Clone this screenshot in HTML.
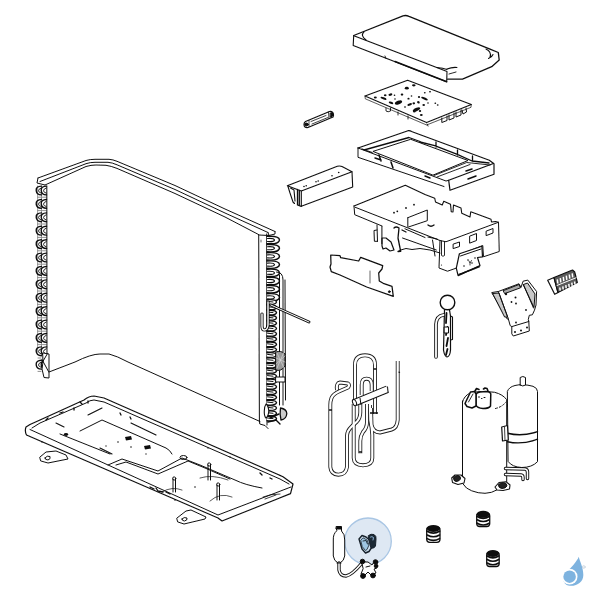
<!DOCTYPE html>
<html><head><meta charset="utf-8"><style>
html,body{margin:0;padding:0;background:#fff;width:600px;height:600px;overflow:hidden}
svg{display:block}
</style></head><body>
<svg width="600" height="600" viewBox="0 0 600 600">
<rect width="600" height="600" fill="#fff"/>
<defs><filter id="soft" x="0" y="0" width="600" height="600" filterUnits="userSpaceOnUse"><feGaussianBlur stdDeviation="0.3"/></filter></defs>
<g fill="none" stroke="#111" stroke-width="1" stroke-linejoin="round" stroke-linecap="round" filter="url(#soft)">

<!-- ===== LID ===== -->
<g id="lid">
<path d="M353.7,35.5 L403,15.8 Q406,15 409,16.3 L490,49.2 L498.3,52.5 L499.2,60 L491.7,66.7 L462.5,79.2 L447.5,79.2" stroke-width="1.3"/>
<path d="M353.7,35.5 L353.2,45.5 L446.7,81.7 L447,71.5 L436.7,67.5 L354.5,36" stroke-width="1.1"/>
<path d="M395,61.5 L446.7,81.7" stroke-width="1.5"/>
<path d="M364,31.8 Q360,35.5 366,40 M486,49 Q492,52 490,57 M488.5,58.5 Q492,57 493,54.5 M457,67.5 Q452,67 447,69 M437,67.5 Q443,68 447,69.5" stroke-width="1.1"/>
<path d="M385,56 L386,58.5 M449,74 L456,72" stroke-width="0.9"/>
</g>

<!-- ===== PCB ===== -->
<g id="pcb">
<path d="M365,96 L407.6,80.2 L471.3,104.5 L426.6,122.5 Z" stroke-width="1.1"/>
<path d="M365,96 L365.3,98.8 L426.6,125 L471,107.3 L471.3,104.5" stroke-width="0.7"/>
<path d="M386,108 L386,111 Q388,112.5 390.5,111 L390.5,108 M398,112 L398,115 M408,116 L408,119 M427,124 L428,126" stroke-width="0.9"/>
<path d="M441.8,118 L441.8,122.5 L447,120.5 L447,116 M449,115 L449,120 L454,118 L454,113 M456,112 L456,117 L461,115 L461,110 M462,110 L463,114 L466.5,112 L466,108" stroke-width="1"/>
<g fill="#111" stroke="none"><ellipse cx="375.3" cy="97.5" rx="1.5" ry="1.1"/><ellipse cx="383.5" cy="98.3" rx="3.2" ry="1.1" transform="rotate(20 383.5 98.3)"/><ellipse cx="385.2" cy="95.2" rx="1.3" ry="1"/><ellipse cx="390.4" cy="94.6" rx="2" ry="1.2" transform="rotate(-15 390.4 94.6)"/><ellipse cx="394.5" cy="95.2" rx="0.8" ry="0.8"/><ellipse cx="402" cy="94.6" rx="1.3" ry="1.1"/><ellipse cx="406.8" cy="88.2" rx="2" ry="1.4"/><ellipse cx="413.8" cy="85.3" rx="1.8" ry="1.1"/><ellipse cx="391" cy="102.8" rx="2.4" ry="1.1" transform="rotate(20 391 102.8)"/><ellipse cx="398.5" cy="102.5" rx="3.8" ry="1.8" transform="rotate(-20 398.5 102.5)"/><ellipse cx="408.5" cy="98.7" rx="1.1" ry="0.9"/><ellipse cx="409.7" cy="104.5" rx="2.4" ry="1.1" transform="rotate(-20 409.7 104.5)"/><ellipse cx="413.8" cy="103.3" rx="1.3" ry="1.1"/><ellipse cx="418.4" cy="102.2" rx="1.4" ry="1.1" transform="rotate(30 418.4 102.2)"/><ellipse cx="419" cy="97" rx="1.1" ry="1"/><ellipse cx="424.5" cy="98.6" rx="3.6" ry="1.1" transform="rotate(25 424.5 98.6)"/><ellipse cx="424.8" cy="92.8" rx="0.9" ry="0.8"/><ellipse cx="430" cy="91.7" rx="1" ry="0.8"/><ellipse cx="416.5" cy="109.5" rx="4" ry="1.6" transform="rotate(-25 416.5 109.5)"/><ellipse cx="423.7" cy="105" rx="1.3" ry="1"/><ellipse cx="421.3" cy="115" rx="1.4" ry="1"/><ellipse cx="414.3" cy="111.5" rx="1.3" ry="1"/><ellipse cx="435.3" cy="103.3" rx="0.9" ry="0.8"/><ellipse cx="437.7" cy="105" rx="0.9" ry="0.8"/><ellipse cx="405" cy="107" rx="1" ry="0.8"/><ellipse cx="395" cy="99" rx="0.8" ry="0.7"/><ellipse cx="428" cy="103" rx="0.8" ry="0.7"/><ellipse cx="411.5" cy="96" rx="0.8" ry="0.7"/><ellipse cx="420" cy="111" rx="1.2" ry="1"/></g>
</g>

<!-- ===== SMALL BRACKET ===== -->
<g id="sb">
<path d="M305.5,121.5 L329.5,111.5 Q333.5,111 333.5,115 L333,117 L308,127.5 Q304,128 304,124.5 Q304,122.5 305.5,121.5 Z" stroke-width="1.2"/>
<path d="M311,121.5 L326,115.5 M312,124 L328,117.5 M309,120.5 L309,126.5 M328.5,112 L329,118.5" stroke-width="0.8"/>
<ellipse cx="306.5" cy="124.5" rx="1.8" ry="1.4" fill="#111"/>
<path d="M330.5,113 L332.5,112.5 L332.5,116 L330.5,117 Z" fill="#111"/>
</g>

<!-- ===== FRAME ===== -->
<g id="frame">
<path d="M358,148 L408,130.7 Q410,130.3 411.5,131.5 L489.3,160.3 L494,163.7 L494,174.3 L450,190.3 L448.7,180.3 L492.7,163.7" stroke-width="1.2"/>
<path d="M358,148 L358,157.3 L444,186.5 M358,148 L446,181 L448.7,180.3"/>
<path d="M364,150 L409,137.5 L420,141.5 M362,149 L372,152.5" stroke-width="1.3"/>
<path d="M373.3,151.3 L410.7,139.3 L468,160.5 L433.3,175 Z"/>
<path d="M420,142 L434.7,145.7 L457.3,154.3 L472,161 L489,163 M436,142 L436,147 M457.5,150 L457.5,155 M472.5,156 L472.5,161.5" stroke-width="1.3"/>
<path d="M434,175.5 L466.7,162.5 L490,165 M437,177 L470,164.5" stroke-width="0.9"/>
<path d="M466,171 L472,169 M468,179 L476,176 M375,158 L381,160 M379,155 L381,161 M391,162 L393,168 M425,176 L430,178" stroke-width="1.5"/>
</g>

<!-- ===== BOX (left middle) ===== -->
<g id="box1">
<path d="M287.3,185.7 L337.3,166.3 Q340,165.5 342,166.5 L352,171.7 L301.3,191 Z" stroke-width="1.1"/>
<path d="M301.3,191 L301.3,206.3 L352.7,187 L352,171.7" stroke-width="1.1"/>
<path d="M288,186.5 L290,193 L293,202 L294.5,203.5 M290.5,188 L294,190 L295,201" stroke-width="1.1"/>
<path d="M297.5,189.5 L297.5,205 L301.3,206.3 M299.3,190.3 L299.3,205.5" stroke-width="1.3"/>
<g fill="#111" stroke="none"><circle cx="304" cy="186.5" r="0.8"/><circle cx="306.2" cy="185.8" r="0.8"/><circle cx="316" cy="181.8" r="0.8"/><circle cx="318.2" cy="181" r="0.8"/><circle cx="332" cy="175.7" r="0.8"/><circle cx="338.7" cy="172.5" r="0.8"/></g>
</g>

<!-- ===== CONTROL BOX ===== -->
<g id="cbox">
<path d="M354,206 L405.3,185.3 L425,194.5 L434.75,198.25 L435.5,202 L442.25,205 L443.75,201.25 L450.5,204.25 L451.25,211.75 L453,212 L453.5,205 L461,208 L461.75,213.25 L470,217 L470.75,211.75 L491,219.25 L491.5,222 L495.5,221.5 L498.5,222.25" stroke-width="1.1"/>
<path d="M354,206 L354.7,214.7 L382,226 M355.3,207.3 L440,240.5 L446,241.75 L498.5,222.25 L499.25,251.5 L483.5,256.75 L482.75,245.5 L459.5,254.5 M440,240.5 L439,268 L447.5,271.2 L456.3,268.1"/>
<path d="M441.5,241 L441.5,255.5 Q443,257 444.5,255.5 L444.5,241.5" stroke-width="0.9"/>
<path d="M453.5,244 L459.5,242 L459.5,246.5 L453.5,248.5 Z M470,236 L476.5,233.5 L476.5,240.5 L470,243 Z M486.5,231 L493,228.5 L493,233 L486.5,235.5 Z" stroke-width="1"/>
<path d="M459.4,253.75 L481.9,246.25 L482.5,256.9 L477.5,257.5 L480,265.6 L458.1,275.6 L456.3,268.1 Z" fill="#fff" stroke-width="1.2"/><path d="M460.5,256 L481,249" stroke-width="1"/>
<path d="M459,274.5 L479,266.8" stroke-width="1.6" stroke-dasharray="2,1"/>
<g fill="#111" stroke="none"><circle cx="468" cy="260" r="0.8"/><circle cx="472" cy="263" r="0.8"/><circle cx="464" cy="266" r="0.8"/><circle cx="475" cy="258" r="0.8"/><circle cx="441.5" cy="265" r="0.6"/>
<circle cx="394" cy="212.7" r="0.9"/><circle cx="397.3" cy="211.3" r="0.9"/><circle cx="406" cy="208" r="0.9"/><circle cx="414" cy="204.7" r="0.9"/></g>
<path d="M469,261 L470,263 L471.5,260.5 M470,263 L470,265" stroke-width="0.8"/>
<!-- raised step on top -->
<path d="M407.8,217.7 L407.8,226.5 M407.8,217.7 L427.3,210 L427.3,220.7 L408.5,227" stroke-width="1"/>
<path d="M428,225 Q431,227.5 434,225" stroke-width="1.3"/>
<!-- hanging parts under left -->
<path d="M377,225 L377.5,241.3 M381.9,226.3 L381.9,243.7 M377,230 L374,230.5 L374.4,241.3 L377.5,241.3" stroke-width="1"/>
<path d="M382,238 L386,238 L391,242 L394,250 L390,251 L386,248 L383,249 L382,246 Z" stroke-width="1.2"/>
<path d="M394,228 Q396,226 399,228 L398,238 L400,248 L400.7,251.3 L398,251.5" stroke-width="1.3"/>
<path d="M402.5,238 L436.3,250 M405,228.8 L425,237.5 M399,250.5 L406,248.5 L412,249.5 L420,248.5 L430,250 L440,253 M432.5,240 L435,256" stroke-width="1"/>
<path d="M402,230 L406,232 M428,237 L437,239" stroke-width="1.2"/>
</g>

<!-- ===== PLATE ===== -->
<g id="plate">
<path stroke-width="1.25" d="M330.7,255 L340,255.7 L340.7,257.7 L358.7,261 L360.7,257.3 L382.7,265.7 L382,269 L378.7,273 L379.3,281 L384,283.7 L392,286.3 L393.3,296.3 L366.7,287 L340,275 L331.3,271.7 L330,267 L331,264 Z"/>
<path d="M370,271 L370,283" stroke-width="0.6"/>
<circle cx="389.3" cy="291.7" r="0.9" fill="#111"/>
</g>

<!-- ===== BALL PART ===== -->
<g id="ball">
<circle cx="447.5" cy="302.5" r="7.3" stroke-width="1.4"/>
<path d="M444.5,310 L443.5,350 Q444.5,356.5 447,357 Q450,356.5 450.5,350 L450.5,316 L449.5,310" stroke-width="1.2"/>
<path d="M446.5,313 L446,323 M447.5,327 L446,335 M448,338 L446.5,346 M447.5,349 L446,355" stroke-width="1.8"/>
<path d="M444.5,327 L448.5,327 L448.5,333 L444.5,333 Z" stroke-width="1" fill="#fff"/>
<path d="M443.5,315 Q436.5,316 436,324 L436,357" stroke-width="3.6"/>
<path d="M443.5,315 Q436.5,316 436,324 L436,357" stroke="#fff" stroke-width="1.8"/>
<path d="M450.5,316 L452.5,317 L452.5,339.5 L450.5,340" stroke-width="1.1"/>
</g>

<!-- ===== RIGHT BRACKET ===== -->
<g id="rbr">
<path d="M492.1,292.5 L498.3,291.5 L519,283.75 L521,287.4 L523.1,281.2 L527.8,280.1 L536.6,291.5 L536,305 L534.5,310.1 L532.4,314.8 L529.3,315.3 L528.3,319.4 L528.8,321.5 L529.3,331 L513.3,336 L511.8,333.9 L511.8,326.6 L510.2,325.6 L508.2,318.4 L507.6,318.9 Z" fill="#fff"/>
<path d="M493,293.5 L499,293 L507.6,317 L505,317 Z" fill="#c8c8c8"/>
<path d="M523.5,284.5 L527.5,283 L535,294 L534,307 Z" fill="#c8c8c8"/>
<path d="M503.5,290.5 L519,284.5 L520.5,287.8 L505,293.5 Z" fill="#aaa"/>
<path d="M498.3,291.5 L508.2,318.4 M523.6,284.8 L533.5,308 M511.8,326.6 L528.8,321.5"/>
<g fill="#111" stroke="none">
<circle cx="515.5" cy="297.5" r="1"/><circle cx="511.5" cy="302" r="0.9"/><circle cx="516" cy="303.5" r="0.9"/><circle cx="526" cy="310" r="0.9"/>
<circle cx="516" cy="322.5" r="0.9"/><circle cx="515" cy="332" r="1"/><circle cx="521" cy="330.5" r="1"/><circle cx="527" cy="327.5" r="1"/>
<circle cx="506" cy="294" r="1.2"/>
</g>
</g>

<!-- ===== TERMINAL BLOCK ===== -->
<g id="tblock">
<path d="M547.7,280.3 L554,277.5 L558,292.5 L554.7,294.3 Z" fill="#fff" stroke-width="1.2"/>
<path d="M554,277.5 L572.5,270 L574.7,272 L577.3,282.5 L558,292.5 Z" fill="#5a5a5a" stroke-width="1.2"/>
<path d="M557,285.5 L576,277.8" stroke="#fff" stroke-width="1"/>
<g stroke="#fff" stroke-width="1.5" stroke-linecap="butt">
<path d="M557.3,279.3 L557.8,283.5 M560.3,278.1 L560.8,282.3 M563.3,276.9 L563.8,281.1 M566.3,275.7 L566.8,279.9 M569.3,274.5 L569.8,278.7 M572.2,273.3 L572.7,277.3"/>
<path d="M559.8,287.5 L560.2,290.7 M562.8,286.3 L563.2,289.5 M565.8,285.1 L566.2,288.3 M568.8,283.9 L569.2,287.1 M571.8,282.7 L572.2,285.9 M574.6,281.5 L575,284.5"/>
</g>
</g>

<!-- ===== COIL ===== -->
<g id="coil">
<path d="M38,178 L86,160.5 Q90,159.3 95,159.3 L109,159.3 Q113,159.6 117,161.3 L175,185.5 L225,209 L275,231.5"/>
<path d="M40,181.5 L86,163.7 Q90,162.3 95,162.3 L108,162.3 Q112,162.6 117,164.8 L175,189.5 L225,213 L268,232.5"/>
<path d="M45,185 L86,166.5 Q91,165 96,165 L106,165.3 Q111,166 117,168.4 L175,193.5 L225,217 L258.5,234.5"/>
<path d="M38,178 L37,183 L45,185 M258.5,234.5 L258.7,235 L269,235.5 L275,234 L275,231.5 M268,232.5 L269,235.5"/>
<!-- left column -->
<path d="M46.8,186 L47,376" stroke-width="1"/><path d="M41.5,186 L41.5,355 M37.6,186 L37.6,352" stroke-width="0.6" stroke="#555"/>
<g id="lcol" stroke-width="1.1" fill="#fff"><path d="M41.5,186.1 Q35.9,186.3 36.2,190.5 Q36.5,194.7 41.5,194.9" fill="none" stroke="#111" stroke-width="1.4"/>
<path d="M41.3,187.9 Q38.5,188.9 38.5,190.8 Q38.7,192.5 41.3,193.2" fill="none" stroke="#222" stroke-width="1"/>
<path d="M46.5,186.1 Q40.9,186.3 41.2,190.5 Q41.5,194.7 46.5,194.9" fill="none" stroke="#111" stroke-width="1.4"/>
<path d="M46.3,187.9 Q43.5,188.9 43.5,190.8 Q43.7,192.5 46.3,193.2" fill="none" stroke="#222" stroke-width="1"/>
<path d="M38,197.2 L41,197.2 M42.5,197.2 L46.5,197.2" stroke-width="0.6" stroke="#444"/>
<path d="M41.5,199.5 Q35.9,199.7 36.2,203.9 Q36.5,208.1 41.5,208.3" fill="none" stroke="#111" stroke-width="1.4"/>
<path d="M41.3,201.3 Q38.5,202.3 38.5,204.2 Q38.7,205.9 41.3,206.6" fill="none" stroke="#222" stroke-width="1"/>
<path d="M46.5,199.5 Q40.9,199.7 41.2,203.9 Q41.5,208.1 46.5,208.3" fill="none" stroke="#111" stroke-width="1.4"/>
<path d="M46.3,201.3 Q43.5,202.3 43.5,204.2 Q43.7,205.9 46.3,206.6" fill="none" stroke="#222" stroke-width="1"/>
<path d="M38,210.6 L41,210.6 M42.5,210.6 L46.5,210.6" stroke-width="0.6" stroke="#444"/>
<path d="M41.5,212.9 Q35.9,213.1 36.2,217.3 Q36.5,221.5 41.5,221.7" fill="none" stroke="#111" stroke-width="1.4"/>
<path d="M41.3,214.7 Q38.5,215.7 38.5,217.6 Q38.7,219.3 41.3,220.0" fill="none" stroke="#222" stroke-width="1"/>
<path d="M46.5,212.9 Q40.9,213.1 41.2,217.3 Q41.5,221.5 46.5,221.7" fill="none" stroke="#111" stroke-width="1.4"/>
<path d="M46.3,214.7 Q43.5,215.7 43.5,217.6 Q43.7,219.3 46.3,220.0" fill="none" stroke="#222" stroke-width="1"/>
<path d="M38,224.0 L41,224.0 M42.5,224.0 L46.5,224.0" stroke-width="0.6" stroke="#444"/>
<path d="M41.5,226.3 Q35.9,226.5 36.2,230.7 Q36.5,234.9 41.5,235.1" fill="none" stroke="#111" stroke-width="1.4"/>
<path d="M41.3,228.1 Q38.5,229.1 38.5,231.0 Q38.7,232.7 41.3,233.4" fill="none" stroke="#222" stroke-width="1"/>
<path d="M46.5,226.3 Q40.9,226.5 41.2,230.7 Q41.5,234.9 46.5,235.1" fill="none" stroke="#111" stroke-width="1.4"/>
<path d="M46.3,228.1 Q43.5,229.1 43.5,231.0 Q43.7,232.7 46.3,233.4" fill="none" stroke="#222" stroke-width="1"/>
<path d="M38,237.4 L41,237.4 M42.5,237.4 L46.5,237.4" stroke-width="0.6" stroke="#444"/>
<path d="M41.5,239.7 Q35.9,239.9 36.2,244.1 Q36.5,248.3 41.5,248.5" fill="none" stroke="#111" stroke-width="1.4"/>
<path d="M41.3,241.5 Q38.5,242.5 38.5,244.4 Q38.7,246.1 41.3,246.8" fill="none" stroke="#222" stroke-width="1"/>
<path d="M46.5,239.7 Q40.9,239.9 41.2,244.1 Q41.5,248.3 46.5,248.5" fill="none" stroke="#111" stroke-width="1.4"/>
<path d="M46.3,241.5 Q43.5,242.5 43.5,244.4 Q43.7,246.1 46.3,246.8" fill="none" stroke="#222" stroke-width="1"/>
<path d="M38,250.8 L41,250.8 M42.5,250.8 L46.5,250.8" stroke-width="0.6" stroke="#444"/>
<path d="M41.5,253.1 Q35.9,253.3 36.2,257.5 Q36.5,261.7 41.5,261.9" fill="none" stroke="#111" stroke-width="1.4"/>
<path d="M41.3,254.9 Q38.5,255.9 38.5,257.8 Q38.7,259.5 41.3,260.2" fill="none" stroke="#222" stroke-width="1"/>
<path d="M46.5,253.1 Q40.9,253.3 41.2,257.5 Q41.5,261.7 46.5,261.9" fill="none" stroke="#111" stroke-width="1.4"/>
<path d="M46.3,254.9 Q43.5,255.9 43.5,257.8 Q43.7,259.5 46.3,260.2" fill="none" stroke="#222" stroke-width="1"/>
<path d="M38,264.2 L41,264.2 M42.5,264.2 L46.5,264.2" stroke-width="0.6" stroke="#444"/>
<path d="M41.5,266.5 Q35.9,266.7 36.2,270.9 Q36.5,275.1 41.5,275.3" fill="none" stroke="#111" stroke-width="1.4"/>
<path d="M41.3,268.3 Q38.5,269.3 38.5,271.2 Q38.7,272.9 41.3,273.6" fill="none" stroke="#222" stroke-width="1"/>
<path d="M46.5,266.5 Q40.9,266.7 41.2,270.9 Q41.5,275.1 46.5,275.3" fill="none" stroke="#111" stroke-width="1.4"/>
<path d="M46.3,268.3 Q43.5,269.3 43.5,271.2 Q43.7,272.9 46.3,273.6" fill="none" stroke="#222" stroke-width="1"/>
<path d="M38,277.6 L41,277.6 M42.5,277.6 L46.5,277.6" stroke-width="0.6" stroke="#444"/>
<path d="M41.5,279.9 Q35.9,280.1 36.2,284.3 Q36.5,288.5 41.5,288.7" fill="none" stroke="#111" stroke-width="1.4"/>
<path d="M41.3,281.7 Q38.5,282.7 38.5,284.6 Q38.7,286.3 41.3,287.0" fill="none" stroke="#222" stroke-width="1"/>
<path d="M46.5,279.9 Q40.9,280.1 41.2,284.3 Q41.5,288.5 46.5,288.7" fill="none" stroke="#111" stroke-width="1.4"/>
<path d="M46.3,281.7 Q43.5,282.7 43.5,284.6 Q43.7,286.3 46.3,287.0" fill="none" stroke="#222" stroke-width="1"/>
<path d="M38,291.0 L41,291.0 M42.5,291.0 L46.5,291.0" stroke-width="0.6" stroke="#444"/>
<path d="M41.5,293.3 Q35.9,293.5 36.2,297.7 Q36.5,301.9 41.5,302.1" fill="none" stroke="#111" stroke-width="1.4"/>
<path d="M41.3,295.1 Q38.5,296.1 38.5,298.0 Q38.7,299.7 41.3,300.4" fill="none" stroke="#222" stroke-width="1"/>
<path d="M46.5,293.3 Q40.9,293.5 41.2,297.7 Q41.5,301.9 46.5,302.1" fill="none" stroke="#111" stroke-width="1.4"/>
<path d="M46.3,295.1 Q43.5,296.1 43.5,298.0 Q43.7,299.7 46.3,300.4" fill="none" stroke="#222" stroke-width="1"/>
<path d="M38,304.4 L41,304.4 M42.5,304.4 L46.5,304.4" stroke-width="0.6" stroke="#444"/>
<path d="M41.5,306.7 Q35.9,306.9 36.2,311.1 Q36.5,315.3 41.5,315.5" fill="none" stroke="#111" stroke-width="1.4"/>
<path d="M41.3,308.5 Q38.5,309.5 38.5,311.4 Q38.7,313.1 41.3,313.8" fill="none" stroke="#222" stroke-width="1"/>
<path d="M46.5,306.7 Q40.9,306.9 41.2,311.1 Q41.5,315.3 46.5,315.5" fill="none" stroke="#111" stroke-width="1.4"/>
<path d="M46.3,308.5 Q43.5,309.5 43.5,311.4 Q43.7,313.1 46.3,313.8" fill="none" stroke="#222" stroke-width="1"/>
<path d="M38,317.8 L41,317.8 M42.5,317.8 L46.5,317.8" stroke-width="0.6" stroke="#444"/>
<path d="M41.5,320.1 Q35.9,320.3 36.2,324.5 Q36.5,328.7 41.5,328.9" fill="none" stroke="#111" stroke-width="1.4"/>
<path d="M41.3,321.9 Q38.5,322.9 38.5,324.8 Q38.7,326.5 41.3,327.2" fill="none" stroke="#222" stroke-width="1"/>
<path d="M46.5,320.1 Q40.9,320.3 41.2,324.5 Q41.5,328.7 46.5,328.9" fill="none" stroke="#111" stroke-width="1.4"/>
<path d="M46.3,321.9 Q43.5,322.9 43.5,324.8 Q43.7,326.5 46.3,327.2" fill="none" stroke="#222" stroke-width="1"/>
<path d="M38,331.2 L41,331.2 M42.5,331.2 L46.5,331.2" stroke-width="0.6" stroke="#444"/>
<path d="M41.5,333.5 Q35.9,333.7 36.2,337.9 Q36.5,342.1 41.5,342.3" fill="none" stroke="#111" stroke-width="1.4"/>
<path d="M41.3,335.3 Q38.5,336.3 38.5,338.2 Q38.7,339.9 41.3,340.6" fill="none" stroke="#222" stroke-width="1"/>
<path d="M46.5,333.5 Q40.9,333.7 41.2,337.9 Q41.5,342.1 46.5,342.3" fill="none" stroke="#111" stroke-width="1.4"/>
<path d="M46.3,335.3 Q43.5,336.3 43.5,338.2 Q43.7,339.9 46.3,340.6" fill="none" stroke="#222" stroke-width="1"/>
<path d="M38,344.6 L41,344.6 M42.5,344.6 L46.5,344.6" stroke-width="0.6" stroke="#444"/>
<path d="M41.5,346.9 Q35.9,347.1 36.2,351.3 Q36.5,355.5 41.5,355.7" fill="none" stroke="#111" stroke-width="1.4"/>
<path d="M41.3,348.7 Q38.5,349.7 38.5,351.6 Q38.7,353.3 41.3,354.0" fill="none" stroke="#222" stroke-width="1"/>
<path d="M46.5,346.9 Q40.9,347.1 41.2,351.3 Q41.5,355.5 46.5,355.7" fill="none" stroke="#111" stroke-width="1.4"/>
<path d="M46.3,348.7 Q43.5,349.7 43.5,351.6 Q43.7,353.3 46.3,354.0" fill="none" stroke="#222" stroke-width="1"/>
<path d="M38,358.0 L41,358.0 M42.5,358.0 L46.5,358.0" stroke-width="0.6" stroke="#444"/>
<path d="M41.5,360.3 Q35.9,360.5 36.2,364.7 Q36.5,368.9 41.5,369.1" fill="none" stroke="#111" stroke-width="1.4"/>
<path d="M41.3,362.1 Q38.5,363.1 38.5,365.0 Q38.7,366.7 41.3,367.4" fill="none" stroke="#222" stroke-width="1"/>
<path d="M46.5,360.3 Q40.9,360.5 41.2,364.7 Q41.5,368.9 46.5,369.1" fill="none" stroke="#111" stroke-width="1.4"/>
<path d="M46.3,362.1 Q43.5,363.1 43.5,365.0 Q43.7,366.7 46.3,367.4" fill="none" stroke="#222" stroke-width="1"/>
<path d="M38,371.4 L41,371.4 M42.5,371.4 L46.5,371.4" stroke-width="0.6" stroke="#444"/></g>
<path d="M43,353 L49,354 L49,378 L44,377.5 L42,369 L43,362 Z" fill="#fff"/>
<path d="M47.5,353.5 L42.3,362.5 M42,359.5 L48.5,371.5" stroke-width="1"/>
<!-- coil bottom line -->
<path d="M49,372 L75,362 Q91,354 100,354 L109,354 Q117,356 128,362 L260,421.5"/>
<!-- right column -->
<path d="M258.7,234.7 L259.4,421 M266.7,234 L267,425" />
<path d="M261,240 L261,242" stroke-width="0.6"/>
<g id="rcol" stroke-width="1.1" fill="#fff"><path d="M267,236.4 Q279,235.5 279.5,240.0 Q279,244.5 267,243.6" stroke-width="1.4"/>
<path d="M267.5,238.5 Q274,238.0 274.5,240.0 Q274,242.0 267.5,241.5" stroke-width="1.1"/>
<path d="M267,244.6 Q279,243.7 279.5,248.2 Q279,252.7 267,251.8" stroke-width="1.4"/>
<path d="M267.5,246.7 Q274,246.2 274.5,248.2 Q274,250.2 267.5,249.7" stroke-width="1.1"/>
<path d="M267,252.8 Q279,251.9 279.5,256.4 Q279,260.9 267,260.0" stroke-width="1.4"/>
<path d="M267.5,254.9 Q274,254.4 274.5,256.4 Q274,258.4 267.5,257.9" stroke-width="1.1"/>
<path d="M267,261.0 Q279,260.1 279.5,264.6 Q279,269.1 267,268.2" stroke-width="1.4"/>
<path d="M267.5,263.1 Q274,262.6 274.5,264.6 Q274,266.6 267.5,266.1" stroke-width="1.1"/>
<path d="M267,269.2 Q279,268.3 279.5,272.8 Q279,277.3 267,276.4" stroke-width="1.4"/>
<path d="M267.5,271.3 Q274,270.8 274.5,272.8 Q274,274.8 267.5,274.3" stroke-width="1.1"/>
<path d="M267,277.4 Q279,276.5 279.5,281.0 Q279,285.5 267,284.6" stroke-width="1.4"/>
<path d="M267.5,279.5 Q274,279.0 274.5,281.0 Q274,283.0 267.5,282.5" stroke-width="1.1"/>
<path d="M267,285.6 Q279,284.7 279.5,289.2 Q279,293.7 267,292.8" stroke-width="1.4"/>
<path d="M267.5,287.7 Q274,287.2 274.5,289.2 Q274,291.2 267.5,290.7" stroke-width="1.1"/>
<path d="M267,293.8 Q279,292.9 279.5,297.4 Q279,301.9 267,301.0" stroke-width="1.4"/>
<path d="M267.5,295.9 Q274,295.4 274.5,297.4 Q274,299.4 267.5,298.9" stroke-width="1.1"/>
<path d="M267,299.8 Q276,299.0 276.5,302.0 Q276,305.0 267,304.2" stroke-width="1.4"/>
<path d="M267.5,301.4 L273,302.0" stroke-width="1"/>
<path d="M267,305.1 Q276,304.3 276.5,307.3 Q276,310.3 267,309.5" stroke-width="1.4"/>
<path d="M267.5,306.7 L273,307.3" stroke-width="1"/>
<path d="M267,310.4 Q276,309.6 276.5,312.6 Q276,315.6 267,314.8" stroke-width="1.4"/>
<path d="M267.5,312.0 L273,312.6" stroke-width="1"/>
<path d="M267,315.7 Q276,314.9 276.5,317.9 Q276,320.9 267,320.1" stroke-width="1.4"/>
<path d="M267.5,317.3 L273,317.9" stroke-width="1"/>
<path d="M267,321.0 Q276,320.2 276.5,323.2 Q276,326.2 267,325.4" stroke-width="1.4"/>
<path d="M267.5,322.6 L273,323.2" stroke-width="1"/>
<path d="M267,326.3 Q276,325.5 276.5,328.5 Q276,331.5 267,330.7" stroke-width="1.4"/>
<path d="M267.5,327.9 L273,328.5" stroke-width="1"/>
<path d="M267,331.6 Q276,330.8 276.5,333.8 Q276,336.8 267,336.0" stroke-width="1.4"/>
<path d="M267.5,333.2 L273,333.8" stroke-width="1"/>
<path d="M267,336.9 Q276,336.1 276.5,339.1 Q276,342.1 267,341.3" stroke-width="1.4"/>
<path d="M267.5,338.5 L273,339.1" stroke-width="1"/>
<path d="M267,342.2 Q276,341.4 276.5,344.4 Q276,347.4 267,346.6" stroke-width="1.4"/>
<path d="M267.5,343.8 L273,344.4" stroke-width="1"/>
<path d="M267,347.5 Q276,346.7 276.5,349.7 Q276,352.7 267,351.9" stroke-width="1.4"/>
<path d="M267.5,349.1 L273,349.7" stroke-width="1"/>
<path d="M267,352.8 Q276,352.0 276.5,355.0 Q276,358.0 267,357.2" stroke-width="1.4"/>
<path d="M267.5,354.4 L273,355.0" stroke-width="1"/>
<path d="M267,358.1 Q276,357.3 276.5,360.3 Q276,363.3 267,362.5" stroke-width="1.4"/>
<path d="M267.5,359.7 L273,360.3" stroke-width="1"/>
<path d="M267,363.4 Q276,362.6 276.5,365.6 Q276,368.6 267,367.8" stroke-width="1.4"/>
<path d="M267.5,365.0 L273,365.6" stroke-width="1"/>
<path d="M267,368.7 Q276,367.9 276.5,370.9 Q276,373.9 267,373.1" stroke-width="1.4"/>
<path d="M267.5,370.3 L273,370.9" stroke-width="1"/>
<path d="M267,374.0 Q276,373.2 276.5,376.2 Q276,379.2 267,378.4" stroke-width="1.4"/>
<path d="M267.5,375.6 L273,376.2" stroke-width="1"/>
<path d="M267,379.3 Q276,378.5 276.5,381.5 Q276,384.5 267,383.7" stroke-width="1.4"/>
<path d="M267.5,380.9 L273,381.5" stroke-width="1"/>
<path d="M267,384.6 Q276,383.8 276.5,386.8 Q276,389.8 267,389.0" stroke-width="1.4"/>
<path d="M267.5,386.2 L273,386.8" stroke-width="1"/>
<path d="M267,389.9 Q276,389.1 276.5,392.1 Q276,395.1 267,394.3" stroke-width="1.4"/>
<path d="M267.5,391.5 L273,392.1" stroke-width="1"/>
<path d="M267,395.2 Q276,394.4 276.5,397.4 Q276,400.4 267,399.6" stroke-width="1.4"/>
<path d="M267.5,396.8 L273,397.4" stroke-width="1"/>
<path d="M267,400.5 Q276,399.7 276.5,402.7 Q276,405.7 267,404.9" stroke-width="1.4"/>
<path d="M267.5,402.1 L273,402.7" stroke-width="1"/>
<path d="M267,405.8 Q276,405.0 276.5,408.0 Q276,411.0 267,410.2" stroke-width="1.4"/>
<path d="M267.5,407.4 L273,408.0" stroke-width="1"/>
<path d="M267,411.1 Q276,410.3 276.5,413.3 Q276,416.3 267,415.5" stroke-width="1.4"/>
<path d="M267.5,412.7 L273,413.3" stroke-width="1"/>
<path d="M267,416.4 Q276,415.6 276.5,418.6 Q276,421.6 267,420.8" stroke-width="1.4"/>
<path d="M267.5,418.0 L273,418.6" stroke-width="1"/>
<path d="M276.5,272 Q283,272 283,280 L283,405 M279.5,275 L279.5,405 M285,280 L285.5,400" stroke-width="1" fill="none"/>
<path d="M276,352 Q281,350 285,354 L285,366 Q281,372 276,370 Z" fill="#999" stroke-width="1"/>
<path d="M277,353 L284,368 M284,352 L277,368 M276,358 L285,362 M276,364 L285,356" stroke="#ddd" stroke-width="0.6" fill="none"/>
<path d="M276,377 L285,377 L285,382 L276,382 Z" stroke-width="1"/>
<path d="M268,302 L268,325 Q267.5,330 264.5,330 Q262,330 262,326 L262,314" stroke-width="3.2" fill="none"/>
<path d="M268,302 L268,325 Q267.5,330 264.5,330 Q262,330 262,326 L262,314" stroke="#fff" stroke-width="1.4" fill="none"/>
<path d="M266,404 Q268.5,406 268.8,411 Q268.5,416 266,418 Q264,416 264.3,411 Q264.5,406 266,404 Z" stroke-width="1.1"/>
<path d="M280.5,408 Q286.5,409 286.8,413.5 Q286.5,419 281,420 Q279.5,414 280.5,408 Z" fill="#ccc" stroke-width="1.3"/>
<path d="M270,418 L279,414 M268,422 L276,420 L280,424" stroke-width="1.4" fill="none"/>
<path d="M259.4,421 L259.8,424 L265,425.5 L268,428.5" stroke-width="1" fill="none"/></g>
<!-- rod -->
<path d="M270.8,305 L309,322" stroke-width="2.8"/>
<path d="M270.8,305 L309,322" stroke="#fff" stroke-width="1"/>
</g>

<!-- ===== BASE PAN ===== -->
<g id="base">
<path d="M26,427 L30,424.5 L40,420 L84,400 Q89,396 94,396 L104,398 L283,476.7 L293,484 L290.5,493.6 L222,521 L218,518 L26.5,435 Q24.5,431 26,427 Z" stroke-width="1.2"/>
<path d="M30,429.5 L218,515 L291,487"/>
<path d="M32,428 L40,423 L86,403 Q90,400 94,400 L104,402 L280,479 L289,484"/>
<path d="M80,431 L102,420 L166,448 Q170,450 172,454"/>
<path d="M60,434 L110,454"/>
<path d="M131,423 L156,435 M56,423 L64,427 M88,415 L102,408 M100,448 L112,454" stroke-width="1.1"/>
<path d="M108,465 L122,459 L158,471 L182,458 L200,465 L235,480 Q245,485 262,488 M116,465 L126,462 L158,474 L188,461 L205,468 L230,479"/>
<path d="M46,420 L48,418 M60,413 L63,412 M74,408 L74,410 M80,402 L82,404 M88,401 L88,403 M120,413 L121,415 M130,417 L131,419 M260,473 L262,475 M270,478 L272,479" stroke-width="1.3"/>
<!-- feet -->
<path d="M40,457 L46,452 L56,451 L66,455 L68,459 L48,463 L41,461 Z"/>
<path d="M45,458 Q47,455 50,456.5 Q51,459 48,460 Q45,460 45,458 Z"/>
<path d="M177,518 L186,511 L191,510 L206,517 L205,519 L184,524 L178,522 Z"/>
<path d="M182,519 Q184,516.5 187,518 Q187.5,520.5 184.5,521 Q182,521 182,519 Z"/>
<!-- pins -->
<path d="M208,465 L208,480 M210.5,465 L210.5,480 M217,485 L217,500 M219.5,485 L219.5,500 M173,479 L173,492 M175.5,479 L175.5,492" stroke-width="1"/>
<path d="M200,478 Q212,474 228,480 M210,501 Q220,492 232,497 M162,492 Q172,486 182,490" stroke-width="0.7"/>
<circle cx="209.2" cy="464.5" r="1.6"/><circle cx="218.2" cy="484.5" r="1.6"/><circle cx="174.2" cy="478.5" r="1.6"/>
<ellipse cx="183.5" cy="457.5" rx="3.5" ry="2"/>
<path d="M150,487 L154,489 M156,488 L158,491 L163,492 M166,492 L170,494" stroke-width="1.3"/>
<path d="M263,497 Q270,494 280,494 M265,499 L276,495" stroke-width="0.8"/>
<g fill="#111" stroke="none">
<ellipse cx="66" cy="434.5" rx="2.2" ry="1.4"/>
<path d="M125,437 L131,436 L132,439.5 L126,440.5 Z"/>
<path d="M144,446 L150,445 L151,448.5 L145,449.5 Z"/>
<circle cx="118" cy="442" r="0.8"/><circle cx="131" cy="447" r="0.8"/><circle cx="146" cy="454" r="0.7"/>
<circle cx="208" cy="448" r="0.7"/><circle cx="230" cy="457" r="0.7"/><circle cx="175" cy="500" r="0.8"/>
<circle cx="42" cy="442" r="0.7"/><circle cx="106" cy="446" r="0.7"/><circle cx="195" cy="487" r="0.8"/>
</g>
</g>

<!-- ===== PIPES ===== -->
<g id="pipes" stroke-width="3.6" stroke-linecap="butt">
<path d="M337,390 Q336,383 340,382.5 L348,383.5 Q350,385 348,387.5 L340,391 Q333,394 331.5,398 Q330.3,401 330.3,405 L330.3,467 Q331,474.5 338.3,474.7 Q346,474.5 347,467 L347,436 Q347,431 351.7,426.5 L357,421.5 Q360.3,418 360.3,412 L360.3,403" stroke="#1a1a1a" stroke-width="3.9"/>
<path d="M355,400 L355,365 Q355,355.3 365,355.3 Q375,355.3 375,365 L375,414" stroke="#1a1a1a" stroke-width="3.9"/>
<path d="M361.7,395 L361.7,385 Q361.7,378.7 366.5,378.7 Q371.7,378.7 371.7,385 L371.7,391" stroke="#1a1a1a" stroke-width="3.9"/>
<path d="M397.7,361 L397.7,420 Q397,428 391.7,429.5 L380,432.5 Q373,432 371.5,425 L371,408" stroke="#1a1a1a" stroke-width="3.9"/>
<path d="M353.7,404 L353.7,458 Q354,465.3 363,465.3 Q372.3,465 372.3,458 L372.3,435 Q372,428 370.3,420 L370,405" stroke="#1a1a1a" stroke-width="3.9"/>
<path d="M367,404 L367,422 Q367,428 363,432 Q360.3,436 360.3,441 L360.3,453.3" stroke="#1a1a1a" stroke-width="3.9"/>
<path d="M337,390 Q336,383 340,382.5 L348,383.5 Q350,385 348,387.5 L340,391 Q333,394 331.5,398 Q330.3,401 330.3,405 L330.3,467 Q331,474.5 338.3,474.7 Q346,474.5 347,467 L347,436 Q347,431 351.7,426.5 L357,421.5 Q360.3,418 360.3,412 L360.3,403" stroke="#fff" stroke-width="2.2"/>
<path d="M355,400 L355,365 Q355,355.3 365,355.3 Q375,355.3 375,365 L375,414" stroke="#fff" stroke-width="2.2"/>
<path d="M361.7,395 L361.7,385 Q361.7,378.7 366.5,378.7 Q371.7,378.7 371.7,385 L371.7,391" stroke="#fff" stroke-width="2.2"/>
<path d="M397.7,361 L397.7,420 Q397,428 391.7,429.5 L380,432.5 Q373,432 371.5,425 L371,408" stroke="#fff" stroke-width="2.2"/>
<path d="M353.7,404 L353.7,458 Q354,465.3 363,465.3 Q372.3,465 372.3,458 L372.3,435 Q372,428 370.3,420 L370,405" stroke="#fff" stroke-width="2.2"/>
<path d="M367,404 L367,422 Q367,428 363,432 Q360.3,436 360.3,441 L360.3,453.3" stroke="#fff" stroke-width="2.2"/>
<path d="M355,402.5 L387.5,389.2" stroke="#111" stroke-width="7.6"/><path d="M355,402.5 L387.5,389.2" stroke="#fff" stroke-width="5.6"/><ellipse cx="354.5" cy="402.6" rx="1.8" ry="3.3" stroke="#111" stroke-width="1" fill="#fff" transform="rotate(-22 354.5 402.6)"/><path d="M360,398 L361,405 M387.5,386.5 L388,392" stroke="#111" stroke-width="1"/><path d="M373.5,369 L376.5,369 M329,410 L332,410 M359,452 L362,452 M370,413 L378,413" stroke="#111" stroke-width="1.4"/><path d="M398.5,372 L400,372.5" stroke="#111" stroke-width="1.2"/>
</g>

<!-- ===== COMPRESSOR ===== -->
<g id="comp">
<path d="M462.5,401 L462.5,483.3 Q466,489 471.7,490.8 Q478,493.3 485,493.3 Q492,493 496.7,490 L500,487.5"/>
<path d="M462.5,402 Q464,396 470,393 Q480,390.5 494.7,392.3 Q503,394.5 506.7,399.7 L506.7,482"/>
<path d="M495.5,408.5 Q502,407 506,402" stroke-width="1" stroke-dasharray="2,2"/>
<!-- top cap -->
<path d="M476,394.5 L476,405 Q477,408 483,408.5 Q489,408.5 490.5,406 L490.8,394 Q490,391.5 486,391.5 L480,392 Q476.5,392.5 476,394.5 Z" stroke-width="1.5" fill="#fff"/>
<path d="M475,391 L476.5,388.5 L479,389.5 M483.5,389 L485,388 L487,388.5 L488,391" stroke-width="1.6"/>
<path d="M465,403.5 L470.5,392 L474.5,391.5 L476,394 L476,406 L472,408 L467,406.5 Z" stroke-width="1.5" fill="#fff"/>
<path d="M468.5,402 L473,394" stroke-width="0.9"/>
<path d="M478.5,397 L479.5,397 M484,397.5 L485,397.5 M481.5,398.5 L482,398.5" stroke-width="1"/>
<!-- accumulator -->
<path d="M507.5,391 Q509,387 515,385.5 Q522.5,383.5 533,386.3 Q537.5,388 537.5,391.5 L537.5,461.7 Q532,467.5 521.7,467.5 Q512,467 508.3,461.7 Z" fill="#fff"/>
<path d="M520.2,385 L520.2,377.5 Q522.8,375.5 525.5,377.5 L525.5,385 Q522.8,387 520.2,385 Z" fill="#fff"/>
<path d="M507.5,433.3 Q522,437 537.5,431.7 M507.5,441.7 Q522,445 537.5,439.2" stroke-width="1.4"/>
<path d="M501.7,427 L507.5,425.5 L508.3,440 L502.5,441 Z" fill="#fff" stroke-width="1.2"/>
<path d="M504.5,427 L505,440" stroke-width="0.8"/>
<!-- bottom pipes -->
<path d="M505.5,468.5 L525,469 Q527.5,469.3 527.5,472 L527.5,478.5 M505.5,474.5 L521,475 Q523,475.3 523,477.5 L523,479.5" stroke-width="3.4"/>
<path d="M505.5,468.5 L525,469 Q527.5,469.3 527.5,472 L527.5,478.5 M505.5,474.5 L521,475 Q523,475.3 523,477.5 L523,479.5" stroke="#fff" stroke-width="1.5"/>
<!-- feet -->
<path d="M451.7,478 L455,475 L461,475 L465,478.5 L464,483 L458,484.5 L452.5,482.5 Z" fill="#fff" stroke-width="1.1"/>
<path d="M453.5,477.5 Q455,475.5 458,475.5 Q461,476 460.5,479 Q459,481.5 456,481.5 Q453.5,481 453.5,478.5 Z" fill="#222"/>
<path d="M495,487 L499,482.5 L506,481.7 L510,485 L509.5,489 L503,490.5 L497,490 Z" fill="#fff" stroke-width="1.1"/>
<path d="M498.5,484.5 Q500.5,482.5 503.5,482.5 Q507,483 507,486 Q505.5,488.5 502,488.5 Q498.5,488 498.5,485.5 Z" fill="#222"/>
</g>

<!-- ===== GROMMETS ===== -->
<g id="grom"><rect x="426.7" y="527.0" width="13.3" height="15.3" rx="3" fill="#fff" stroke="#111" stroke-width="1.3"/>
<ellipse cx="433.4" cy="528.5" rx="6.7" ry="3.5" fill="#111" stroke="none"/>
<path d="M427.2,531.3 Q433.4,534.8 439.5,531.3" stroke="#111" stroke-width="1.8" fill="none"/>
<path d="M427.2,535.0 Q433.4,538.5 439.5,535.0" stroke="#111" stroke-width="1.6" fill="none"/>
<path d="M427.2,538.6 Q433.4,542.1 439.5,538.6" stroke="#111" stroke-width="1.6" fill="none"/>
<rect x="476.7" y="512.8" width="13.0" height="13.7" rx="3" fill="#fff" stroke="#111" stroke-width="1.3"/>
<ellipse cx="483.2" cy="514.3" rx="6.5" ry="3.5" fill="#111" stroke="none"/>
<path d="M477.2,516.5 Q483.2,520.0 489.2,516.5" stroke="#111" stroke-width="1.8" fill="none"/>
<path d="M477.2,519.8 Q483.2,523.3 489.2,519.8" stroke="#111" stroke-width="1.6" fill="none"/>
<path d="M477.2,523.2 Q483.2,526.7 489.2,523.2" stroke="#111" stroke-width="1.6" fill="none"/>
<rect x="486.7" y="552.0" width="12.5" height="14.5" rx="3" fill="#fff" stroke="#111" stroke-width="1.3"/>
<ellipse cx="492.9" cy="553.5" rx="6.2" ry="3.5" fill="#111" stroke="none"/>
<path d="M487.2,556.0 Q492.9,559.5 498.7,556.0" stroke="#111" stroke-width="1.8" fill="none"/>
<path d="M487.2,559.5 Q492.9,563.0 498.7,559.5" stroke="#111" stroke-width="1.6" fill="none"/>
<path d="M487.2,563.0 Q492.9,566.5 498.7,563.0" stroke="#111" stroke-width="1.6" fill="none"/></g>

<!-- ===== BOTTOM VALVE ===== -->
<g id="valve">
<circle cx="368" cy="541.3" r="23.3" fill="#dee8f3" stroke="#a9c6e4" stroke-width="1.3"/>
<path d="M359,539 L362,535.5 L366,537 L370,540.5 L372,547 L369,551.5 L365.5,553 L362,549 Z" fill="#c9dcec" stroke="#17212b" stroke-width="1.4"/>
<path d="M361,540 L363,537.8 L367,540 L369,545 L367,549.5 L365.5,550.5 L362.5,547 Z" fill="#9fc6e2" stroke="#17212b" stroke-width="0.8"/>
<path d="M368.5,535.5 Q371,533.5 374,534.5 Q376.5,536 376,539 L375.5,546 Q374,549 371,548 L369,541 Z" fill="#1e2a36" stroke="#17212b" stroke-width="1"/>
<path d="M370.5,537 Q372,536 373.5,537.5 L373,540" stroke="#8fb6d8" stroke-width="1"/>
<path d="M363,541 L366,540.5 L367.5,544" stroke="#17212b" stroke-width="0.9"/>
<path d="M336.5,528 L341.5,528 L341.5,531 Q345,534 344.7,540 L344.7,556 Q344,561 340,563 L338,563 Q334,561 333.3,556 L333.3,540 Q333,534 336.5,531 Z" fill="#fff"/>
<path d="M336.5,526.5 L341.5,526.5 L341.5,529 L336.5,529 Z" fill="#111"/>
<path d="M339,563 L339,570 Q340,576 346,576 Q352,575 362,563" stroke-width="3.4"/>
<path d="M339,563 L339,570 Q340,576 346,576 Q352,575 362,563" stroke="#fff" stroke-width="1.5"/>
<path d="M337,563 L341,563" stroke-width="1"/>
<path d="M362,562 L368,562 L372,565 L374,562 L377,562 L377,568 L374,569 L376,573 L371,575 L368,572 L365,575 L361,574 L363,569 Z" fill="#fff" stroke-width="1"/>
<circle cx="362.5" cy="561.5" r="2.3" fill="#111"/><circle cx="375.5" cy="562" r="2.3" fill="#111"/>
<circle cx="363" cy="576" r="2.4" fill="#111"/><circle cx="373" cy="575.5" r="2.4" fill="#111"/><circle cx="376" cy="566" r="1.8" fill="#111"/>
<path d="M366,567 L370,566" stroke-width="1"/>
</g>

<!-- ===== LOGO ===== -->
<g id="logo" stroke="none">
<path d="M578.75,556.67 C580,561.67 583.33,567.5 583.33,575 C583.33,581.67 577.5,586.25 570,585.83 C565,585.42 562.5,581.67 563.33,577.5 C564.17,573.33 570.83,568.33 573.33,565 C575.83,561.67 577.92,559.17 578.75,556.67 Z" fill="#7eb3df"/>
<circle cx="569.6" cy="576.7" r="7.9" fill="#fff"/>
<circle cx="569.6" cy="576.7" r="6.25" fill="#7eb3df"/>
<circle cx="583.8" cy="567" r="1.4" fill="none" stroke="#b8c6d3" stroke-width="0.6"/>
<circle cx="583.8" cy="567" r="0.5" fill="#b8c6d3"/>
</g>

</g>
</svg>
</body></html>
